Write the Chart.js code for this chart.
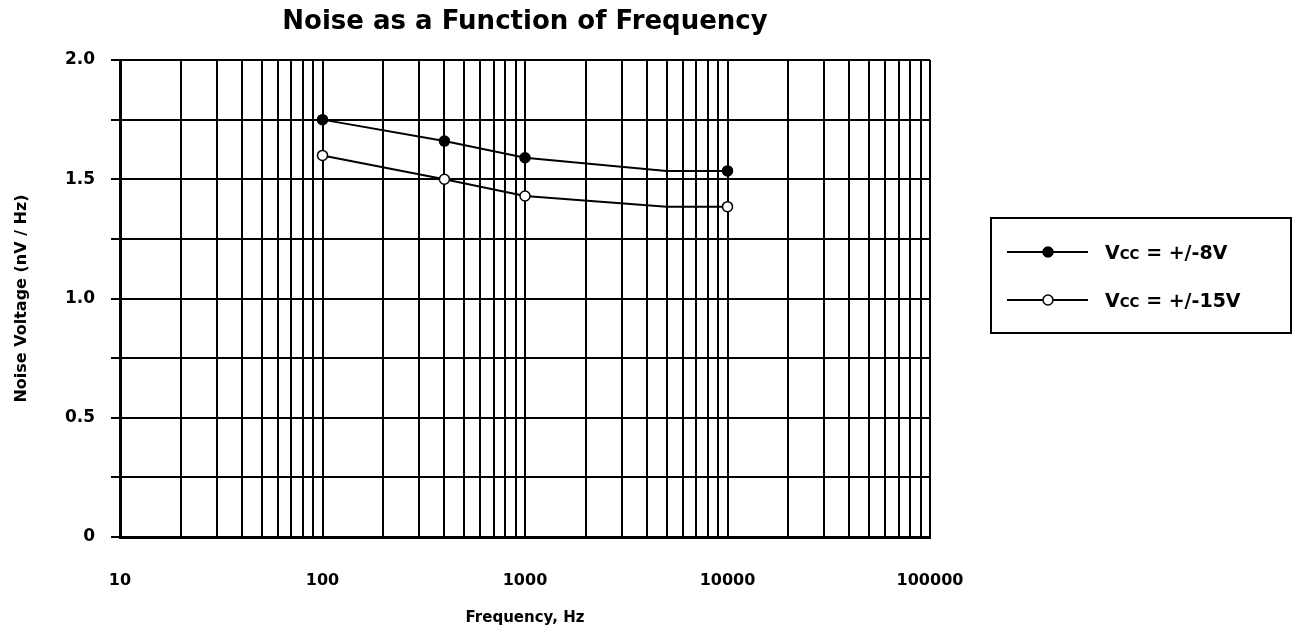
<!DOCTYPE html>
<html>
<head>
<meta charset="utf-8">
<script src="https://cdn.jsdelivr.net/npm/chart.js@4"></script>
<style>
  body { margin: 0; background: #fff; }
</style>
</head>
<body>
<canvas id="grafico" width="1308" height="633"></canvas>
<script>
// dados
const frequencias = [100, 400, 1000, 5000, 10000];
const ruido8V = [1.75, 1.66, 1.59, 1.535, 1.535];
const ruido15V = [1.60, 1.50, 1.43, 1.385, 1.385];
const marcadores = [5, 5, 5, 0, 5];
const legendas = ['VCC = +/-8V', 'VCC = +/-15V'];
const rotulosX = [10, 100, 1000, 10000, 100000];

// linhas de grade log: 10,20,...,90,100,200,...
const gradeX = [];
rotulosX.forEach((d, i) => {
    if (i === rotulosX.length - 1) { gradeX.push(d); return; }
    for (let k = 1; k < 10; k++) gradeX.push(d * k);
});

const fonte = "'DejaVu Sans', sans-serif";

// legenda desenhada na mao (caixa com linha + marcador)
const legendaCaixa = {
    id: 'legendaCaixa',
    afterDraw(chart) {
        const ctx = chart.ctx;
        ctx.save();
        ctx.strokeStyle = '#000';
        ctx.lineWidth = 2;
        ctx.strokeRect(991, 218, 300, 115);
        const linhas = [252, 300];
        chart.data.datasets.forEach((ds, i) => {
            const y = linhas[i];
            ctx.beginPath();
            ctx.moveTo(1007, y);
            ctx.lineTo(1088, y);
            ctx.lineWidth = 2;
            ctx.strokeStyle = '#000';
            ctx.stroke();
            ctx.beginPath();
            ctx.arc(1048, y, 5, 0, Math.PI * 2);
            ctx.fillStyle = ds.pointBackgroundColor;
            ctx.fill();
            ctx.lineWidth = 1.5;
            ctx.stroke();
            // "V" + "CC" em versalete + resto
            const txt = ds.label;
            ctx.fillStyle = '#000';
            ctx.textBaseline = 'alphabetic';
            const base = y + 7;
            let x = 1105;
            ctx.font = 'bold 19px ' + fonte;
            ctx.fillText(txt[0], x, base);
            x += ctx.measureText(txt[0]).width;
            ctx.font = 'bold 13.5px ' + fonte;
            ctx.fillText(txt.slice(1, 3), x, base);
            x += ctx.measureText(txt.slice(1, 3)).width;
            ctx.font = 'bold 19px ' + fonte;
            ctx.fillText(txt.slice(3), x, base);
        });
        ctx.restore();
    }
};

new Chart(document.getElementById('grafico'), {
    type: 'line',
    data: {
        datasets: [{
            label: legendas[0],
            data: frequencias.map((f, i) => ({ x: f, y: ruido8V[i] })),
            borderColor: '#000',
            borderWidth: 2,
            pointRadius: marcadores,
            pointBackgroundColor: '#000',
            pointBorderColor: '#000',
            pointBorderWidth: 1.5
        }, {
            label: legendas[1],
            data: frequencias.map((f, i) => ({ x: f, y: ruido15V[i] })),
            borderColor: '#000',
            borderWidth: 2,
            pointRadius: marcadores,
            pointBackgroundColor: '#fff',
            pointBorderColor: '#000',
            pointBorderWidth: 1.5
        }]
    },
    options: {
        responsive: false,
        animation: false,
        layout: { padding: { top: 0, right: 378, bottom: 0, left: 0 } },
        plugins: {
            legend: { display: false },
            tooltip: { enabled: false },
            title: {
                display: true,
                text: 'Noise as a Function of Frequency',
                fullSize: false,
                color: '#000',
                font: { family: fonte, size: 26, weight: 'bold' },
                padding: { top: 6.4, bottom: 22.4 }
            }
        },
        scales: {
            x: {
                type: 'logarithmic',
                min: 10,
                max: 100000,
                afterBuildTicks: s => { s.ticks = gradeX.map(v => ({ value: v })); },
                afterFit: s => { s.height = 96; },
                grid: { color: '#000', lineWidth: 2, drawTicks: false },
                border: { color: '#000', width: 3 },
                ticks: {
                    autoSkip: false,
                    maxRotation: 0,
                    padding: 34,
                    color: '#000',
                    font: { family: fonte, size: 16, weight: 'bold' },
                    callback: v => rotulosX.includes(v) ? String(v) : ''
                },
                title: {
                    display: true,
                    text: 'Frequency, Hz',
                    color: '#000',
                    font: { family: fonte, size: 15, weight: 'bold' },
                    padding: { top: 0, bottom: 6 }
                }
            },
            y: {
                min: 0,
                max: 2,
                afterFit: s => { s.width = 120; },
                grid: { color: '#000', lineWidth: 2, tickLength: 9 },
                border: { color: '#000', width: 3 },
                ticks: {
                    stepSize: 0.25,
                    padding: 16,
                    color: '#000',
                    font: { family: fonte, size: 17, weight: 'bold' },
                    callback: v => v % 0.5 === 0 ? (v === 0 ? '0' : v.toFixed(1)) : ''
                },
                title: {
                    display: true,
                    text: 'Noise Voltage (nV / Hz)',
                    color: '#000',
                    font: { family: fonte, size: 16, weight: 'bold' },
                    padding: { top: 12, bottom: 0 }
                }
            }
        }
    },
    plugins: [legendaCaixa]
});
</script>
</body>
</html>
